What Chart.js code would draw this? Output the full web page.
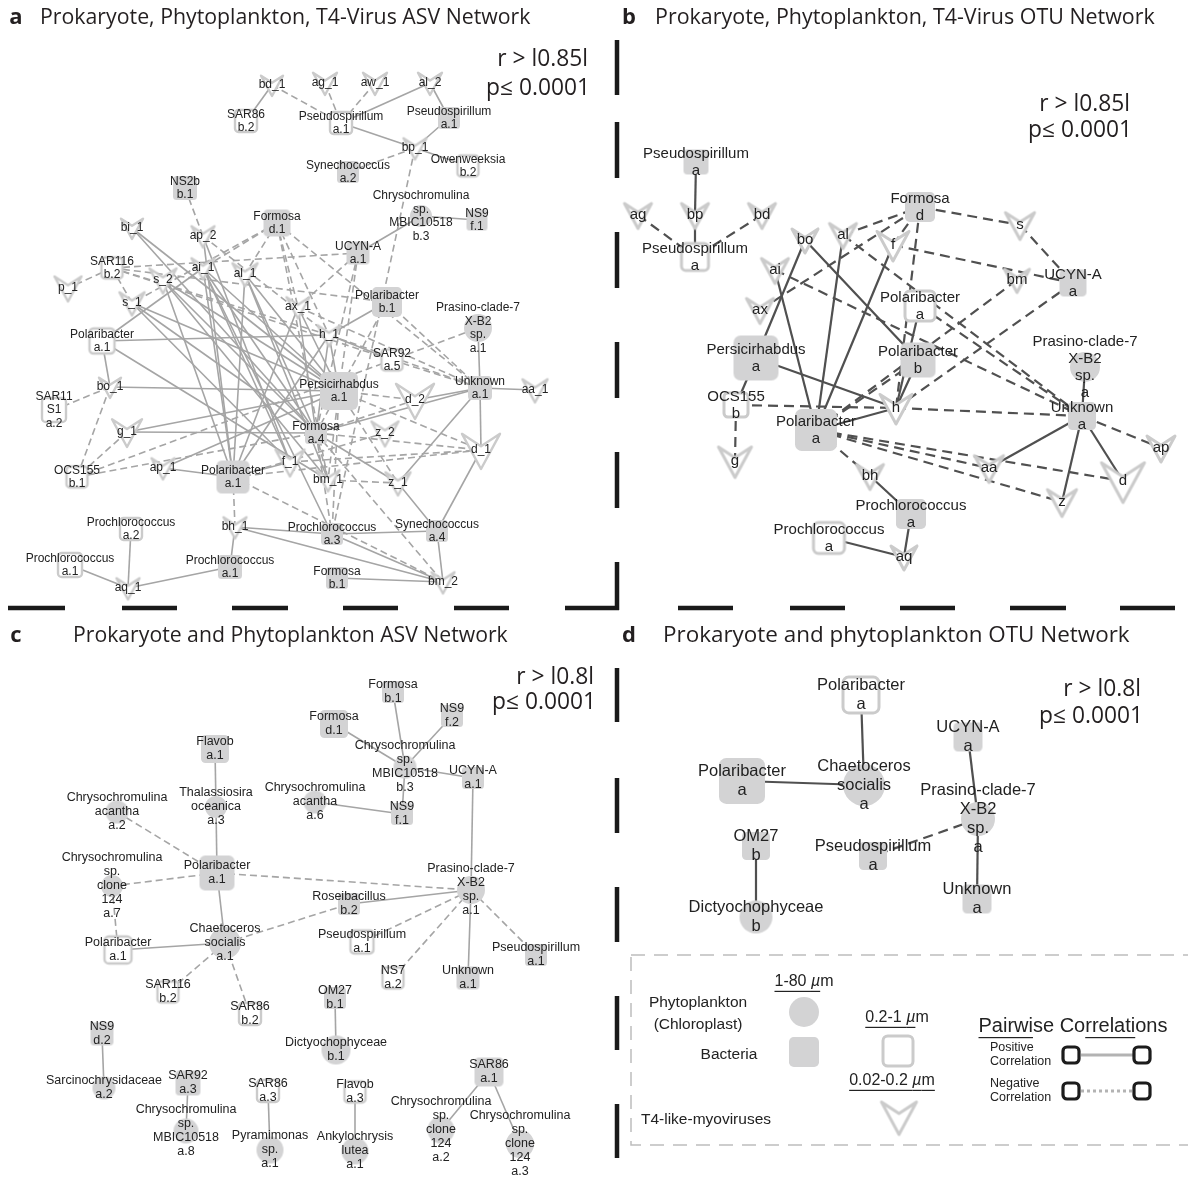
<!DOCTYPE html>
<html>
<head>
<meta charset="utf-8">
<script src="https://cdn.jsdelivr.net/npm/chart.js@4.4.1/dist/chart.umd.min.js"></script>
<style>
  html, body { margin: 0; background: #fff; }
  #wrap { width: 1188px; height: 1180px; }
</style>
</head>
<body>
<div id="wrap"><canvas id="net" width="1188" height="1180"></canvas></div>
<script>
// node: id, label, kind (c phyto circle, f 1-80um, h 0.2-1um, v virus), weight, layout x, layout y
const nodesA = [
  ["bd_1", "bd_1", "v", 22, 272, 85], ["ag_1", "ag_1", "v", 24, 325, 83],
  ["aw_1", "aw_1", "v", 24, 375, 83], ["al_2", "al_2", "v", 24, 430, 83],
  ["sar86b2", "SAR86\nb.2", "h", 22, 246, 121], ["pseuA1h", "Pseudospirillum\na.1", "h", 22, 341, 123],
  ["pseuA1f", "Pseudospirillum\na.1", "f", 22, 449, 118], ["bp_1", "bp_1", "v", 23, 415, 148],
  ["synA2", "Synechococcus\na.2", "f", 22, 348, 172], ["owenB2", "Owenweeksia\nb.2", "h", 21, 468, 166],
  ["ns2bB1", "NS2b\nb.1", "f", 24, 185, 188], ["chryB3", "Chrysochromulina\nsp.\nMBIC10518\nb.3", "c", 22, 421, 216],
  ["ns9F1", "NS9\nf.1", "f", 21, 477, 220], ["formD1", "Formosa\nd.1", "f", 27, 277, 223],
  ["bi_1", "bi_1", "v", 22, 132, 228], ["ap_2", "ap_2", "v", 23, 203, 236],
  ["ucynA1", "UCYN-A\na.1", "f", 23, 358, 253], ["sar116B2", "SAR116\nb.2", "h", 21, 112, 268],
  ["s_2", "s_2", "v", 27, 163, 280], ["ai_1", "ai_1", "v", 23, 203, 268],
  ["al_1", "al_1", "v", 25, 245, 274], ["p_1", "p_1", "v", 27, 68, 288],
  ["s_1", "s_1", "v", 25, 132, 303], ["ax_1", "ax_1", "v", 23, 298, 307],
  ["polB1", "Polaribacter\nb.1", "f", 30, 387, 302], ["prasA1", "Prasino-clade-7\nX-B2\nsp.\na.1", "c", 28, 478, 328],
  ["polA1h", "Polaribacter\na.1", "h", 25, 102, 341], ["h_1", "h_1", "v", 23, 329, 335],
  ["sar92A5", "SAR92\na.5", "h", 21, 392, 360], ["bo_1", "bo_1", "v", 22, 110, 387],
  ["sar11", "SAR11\nS1\na.2", "h", 24, 54, 410], ["persA1", "Persicirhabdus\na.1", "f", 38, 339, 391],
  ["unkA1", "Unknown\na.1", "f", 24, 480, 388], ["aa_1", "aa_1", "v", 25, 535, 390],
  ["d_2", "d_2", "v", 38, 415, 400], ["g_1", "g_1", "v", 30, 127, 432],
  ["formA4", "Formosa\na.4", "f", 22, 316, 433], ["z_2", "z_2", "v", 27, 385, 433],
  ["d_1", "d_1", "v", 38, 481, 450], ["ocsB1", "OCS155\nb.1", "h", 21, 77, 477],
  ["ap_1", "ap_1", "v", 23, 163, 468], ["f_1", "f_1", "v", 29, 290, 462],
  ["polA1f", "Polaribacter\na.1", "f", 33, 233, 477], ["bm_1", "bm_1", "v", 23, 328, 480],
  ["z_1", "z_1", "v", 25, 398, 483], ["bh_1", "bh_1", "v", 23, 235, 527],
  ["proA3", "Prochlorococcus\na.3", "f", 22, 332, 534], ["synA4", "Synechococcus\na.4", "f", 22, 437, 531],
  ["proA2", "Prochlorococcus\na.2", "h", 22, 131, 529], ["proA1h", "Prochlorococcus\na.1", "h", 24, 70, 565],
  ["proA1f", "Prochlorococcus\na.1", "f", 24, 230, 567], ["aq_1", "aq_1", "v", 23, 128, 588],
  ["formB1", "Formosa\nb.1", "f", 22, 337, 578], ["bm_2", "bm_2", "v", 23, 443, 582]
];

// edge: from, to, correlation sign
const edgesA = [
  ["bd_1", "sar86b2", 1], ["bd_1", "pseuA1h", -1], ["ag_1", "pseuA1h", -1], ["aw_1", "pseuA1h", -1],
  ["al_2", "pseuA1h", 1], ["al_2", "pseuA1f", 1], ["pseuA1h", "bp_1", 1], ["pseuA1f", "bp_1", 1],
  ["bp_1", "synA2", -1], ["bp_1", "owenB2", 1], ["bp_1", "proA3", -1],
  ["chryB3", "ns9F1", 1], ["chryB3", "ucynA1", 1], ["ns2bB1", "ap_2", -1],
  ["formD1", "ai_1", -1], ["formD1", "al_1", -1], ["formD1", "s_1", -1], ["formD1", "h_1", -1],
  ["formD1", "bm_1", -1], ["formD1", "ax_1", -1], ["formD1", "unkA1", -1],
  ["sar116B2", "p_1", -1], ["sar116B2", "s_1", -1], ["sar116B2", "ucynA1", -1], ["sar116B2", "polB1", -1],
  ["sar116B2", "h_1", -1], ["sar116B2", "sar92A5", -1],
  ["ap_2", "h_1", -1], ["ap_2", "f_1", 1], ["ap_2", "polA1f", 1],
  ["bi_1", "formA4", 1], ["bi_1", "persA1", 1],
  ["s_2", "persA1", 1], ["s_2", "formA4", 1], ["s_2", "polA1f", 1], ["s_2", "bm_1", 1],
  ["ai_1", "persA1", 1], ["ai_1", "formA4", 1], ["ai_1", "polA1f", 1], ["ai_1", "f_1", 1], ["ai_1", "proA3", 1],
  ["al_1", "persA1", 1], ["al_1", "formA4", 1], ["al_1", "polA1f", 1], ["al_1", "bm_1", 1],
  ["s_1", "persA1", 1], ["s_1", "formA4", 1], ["s_1", "f_1", 1],
  ["ax_1", "persA1", 1], ["ax_1", "formA4", 1], ["ax_1", "unkA1", -1], ["ax_1", "polA1f", 1],
  ["ucynA1", "ax_1", -1], ["ucynA1", "formA4", -1], ["ucynA1", "persA1", -1],
  ["polB1", "h_1", 1], ["polB1", "unkA1", -1], ["polB1", "formA4", -1],
  ["h_1", "sar92A5", 1], ["h_1", "unkA1", -1], ["h_1", "persA1", 1], ["h_1", "formA4", 1], ["h_1", "polA1f", 1],
  ["sar92A5", "unkA1", -1],
  ["polA1h", "bo_1", 1], ["polA1h", "h_1", 1], ["polA1h", "bm_1", 1], ["polA1h", "ai_1", 1],
  ["bo_1", "sar11", -1], ["bo_1", "ocsB1", -1], ["bo_1", "persA1", 1],
  ["g_1", "formA4", 1], ["g_1", "persA1", 1], ["g_1", "ocsB1", -1],
  ["ocsB1", "prasA1", -1], ["ocsB1", "formA4", -1],
  ["ap_1", "polA1f", 1], ["ap_1", "persA1", 1],
  ["polA1f", "f_1", 1], ["polA1f", "d_1", -1], ["polA1f", "bm_2", -1], ["polA1f", "bh_1", -1], ["polA1f", "z_2", -1],
  ["persA1", "d_2", -1], ["persA1", "d_1", -1], ["persA1", "z_1", -1], ["persA1", "bm_1", -1], ["persA1", "proA3", -1],
  ["formA4", "unkA1", 1], ["formA4", "d_2", -1], ["formA4", "d_1", -1], ["formA4", "z_1", 1],
  ["formA4", "bm_1", -1], ["formA4", "proA3", -1], ["formA4", "bm_2", -1],
  ["f_1", "d_1", -1], ["bm_1", "z_1", -1],
  ["z_1", "unkA1", 1], ["z_1", "synA4", 1], ["d_1", "synA4", 1], ["unkA1", "d_1", 1],
  ["unkA1", "aa_1", 1], ["unkA1", "prasA1", 1], ["d_2", "unkA1", 1],
  ["bh_1", "proA1f", 1], ["bh_1", "proA3", 1], ["bh_1", "bm_2", 1],
  ["proA2", "aq_1", 1], ["proA1h", "aq_1", 1], ["proA1f", "aq_1", 1],
  ["proA3", "synA4", 1], ["proA3", "bm_2", 1], ["formB1", "bm_2", 1], ["synA4", "bm_2", 1]
];

const nodesB = [
  ["pseuF", "Pseudospirillum\na", "f", 25, 696, 162], ["ag", "ag", "v", 27, 638, 215],
  ["bp", "bp", "v", 27, 695, 215], ["bd", "bd", "v", 27, 762, 215],
  ["pseuH", "Pseudospirillum\na", "h", 27, 695, 257], ["bo", "bo", "v", 26, 805, 240],
  ["al", "al", "v", 27, 843, 235], ["f", "f", "v", 32, 893, 245],
  ["ai", "ai", "v", 27, 775, 270], ["ax", "ax", "v", 27, 760, 310],
  ["form", "Formosa\nd", "f", 30, 920, 207], ["s", "s", "v", 29, 1020, 225],
  ["bm", "bm", "v", 25, 1017, 280], ["ucyn", "UCYN-A\na", "f", 27, 1073, 283],
  ["polH", "Polaribacter\na", "h", 30, 920, 306], ["polB", "Polaribacter\nb", "f", 35, 918, 360],
  ["pras", "Prasino-clade-7\nX-B2\nsp.\na", "c", 30, 1085, 367], ["pers", "Persicirhabdus\na", "f", 45, 756, 358],
  ["ocs", "OCS155\nb", "h", 24, 736, 405], ["h", "h", "v", 32, 896, 408],
  ["polF", "Polaribacter\na", "f", 42, 816, 430], ["unk", "Unknown\na", "f", 28, 1082, 416],
  ["g", "g", "v", 33, 735, 461], ["bh", "bh", "v", 27, 870, 476],
  ["aa", "aa", "v", 29, 989, 468], ["ap", "ap", "v", 28, 1161, 448],
  ["d", "d", "v", 43, 1123, 481], ["z", "z", "v", 29, 1062, 502],
  ["proF", "Prochlorococcus\na", "f", 30, 911, 514], ["proH", "Prochlorococcus\na", "h", 31, 829, 538],
  ["aq", "aq", "v", 26, 904, 557]
];

const edgesB = [
  ["pseuF", "bp", 1], ["bp", "pseuH", 1], ["ag", "pseuH", -1], ["bd", "pseuH", -1],
  ["bo", "pers", 1], ["bo", "polB", 1], ["ai", "polF", 1], ["ai", "unk", -1],
  ["al", "polF", 1], ["al", "form", -1], ["al", "unk", -1],
  ["f", "polF", 1], ["f", "ucyn", -1], ["f", "form", -1], ["ax", "form", -1],
  ["form", "s", -1], ["form", "h", -1], ["s", "ucyn", -1], ["bm", "polF", -1], ["ucyn", "h", -1],
  ["polH", "h", 1], ["polH", "unk", -1], ["polB", "h", 1], ["polF", "polB", -1],
  ["pers", "h", 1], ["pers", "ocs", 1], ["ocs", "h", -1], ["ocs", "g", -1],
  ["h", "unk", -1], ["polF", "h", 1],
  ["polF", "aa", -1], ["polF", "d", -1], ["polF", "z", -1], ["polF", "bh", -1],
  ["bh", "proF", 1], ["proF", "aq", 1], ["proH", "aq", 1],
  ["unk", "aa", 1], ["unk", "z", 1], ["unk", "d", 1], ["unk", "ap", -1], ["unk", "pras", 1]
];

const nodesC = [
  ["flavA1", "Flavob\na.1", "f", 28, 215, 749], ["thal", "Thalassiosira\noceanica\na.3", "c", 22, 216, 807],
  ["chrA2", "Chrysochromulina\nacantha\na.2", "c", 23, 117, 812], ["polF", "Polaribacter\na.1", "f", 35, 217, 873],
  ["chrA7", "Chrysochromulina\nsp.\nclone\n124\na.7", "c", 22, 112, 886],
  ["formB1", "Formosa\nb.1", "f", 22, 393, 692], ["formD1", "Formosa\nd.1", "f", 28, 334, 724],
  ["ns9F2", "NS9\nf.2", "f", 22, 452, 716], ["chrB3", "Chrysochromulina\nsp.\nMBIC10518\nb.3", "c", 23, 405, 767],
  ["ucyn", "UCYN-A\na.1", "f", 22, 473, 778], ["chrA6", "Chrysochromulina\nacantha\na.6", "c", 23, 315, 802],
  ["ns9F1", "NS9\nf.1", "f", 22, 402, 814], ["pras", "Prasino-clade-7\nX-B2\nsp.\na.1", "c", 28, 471, 890],
  ["rose", "Roseibacillus\nb.2", "f", 22, 349, 904], ["pseuH", "Pseudospirillum\na.1", "h", 23, 362, 942],
  ["polH", "Polaribacter\na.1", "h", 27, 118, 950], ["chae", "Chaetoceros\nsocialis\na.1", "c", 32, 225, 943],
  ["sar116", "SAR116\nb.2", "h", 21, 168, 992], ["sar86B2", "SAR86\nb.2", "h", 22, 250, 1014],
  ["om27", "OM27\nb.1", "f", 22, 335, 998], ["dict", "Dictyochophyceae\nb.1", "c", 29, 336, 1050],
  ["ns7", "NS7\na.2", "h", 21, 393, 978], ["unk", "Unknown\na.1", "f", 23, 468, 978],
  ["pseuF", "Pseudospirillum\na.1", "f", 22, 536, 955], ["ns9D2", "NS9\nd.2", "f", 23, 102, 1034],
  ["sarc", "Sarcinochrysidaceae\na.2", "c", 23, 104, 1088], ["sar92", "SAR92\na.3", "f", 25, 188, 1083],
  ["chrA8", "Chrysochromulina\nsp.\nMBIC10518\na.8", "c", 25, 186, 1131], ["sar86A3", "SAR86\na.3", "h", 22, 268, 1091],
  ["pyra", "Pyramimonas\nsp.\na.1", "c", 27, 270, 1150], ["flavA3", "Flavob\na.3", "h", 21, 355, 1092],
  ["anky", "Ankylochrysis\nlutea\na.1", "c", 27, 355, 1151], ["sar86A1", "SAR86\na.1", "f", 29, 489, 1072],
  ["chrCl2", "Chrysochromulina\nsp.\nclone\n124\na.2", "c", 27, 441, 1130],
  ["chrCl3", "Chrysochromulina\nsp.\nclone\n124\na.3", "c", 28, 520, 1144]
];

const edgesC = [
  ["flavA1", "thal", 1], ["thal", "polF", 1], ["chrA2", "polF", -1], ["chrA7", "polF", -1], ["chrA7", "polH", -1],
  ["polF", "pras", -1], ["polF", "chae", 1], ["chae", "polH", 1], ["chae", "sar116", -1], ["chae", "sar86B2", -1],
  ["chae", "rose", -1], ["rose", "pras", 1], ["pras", "pseuH", -1], ["pras", "ns7", -1], ["pras", "unk", 1],
  ["pras", "pseuF", -1], ["pras", "ucyn", 1],
  ["chrB3", "formB1", 1], ["chrB3", "formD1", 1], ["chrB3", "ns9F2", 1], ["chrB3", "ucyn", 1], ["chrB3", "ns9F1", 1],
  ["chrA6", "ns9F1", 1], ["om27", "dict", 1], ["ns9D2", "sarc", 1], ["sar92", "chrA8", 1],
  ["sar86A3", "pyra", 1], ["flavA3", "anky", 1], ["sar86A1", "chrCl2", 1], ["sar86A1", "chrCl3", 1]
];

const nodesD = [
  ["polH", "Polaribacter\na", "h", 36, 861, 695], ["ucyn", "UCYN-A\na", "f", 29, 968, 737],
  ["polF", "Polaribacter\na", "f", 46, 742, 781], ["chae", "Chaetoceros\nsocialis\na", "c", 42, 864, 785],
  ["pras", "Prasino-clade-7\nX-B2\nsp.\na", "c", 34, 978, 819], ["om27", "OM27\nb", "f", 28, 756, 846],
  ["pseu", "Pseudospirillum\na", "f", 28, 873, 856], ["unk", "Unknown\na", "f", 29, 977, 899],
  ["dict", "Dictyochophyceae\nb", "c", 33, 756, 917]
];

const edgesD = [
  ["polH", "chae", 1], ["polF", "chae", 1], ["ucyn", "pras", 1],
  ["pras", "unk", 1], ["pras", "pseu", -1], ["om27", "dict", 1]
];

const titleLetters = ["a", "b", "c", "d"];
const titleTexts = [
  "Prokaryote, Phytoplankton, T4-Virus ASV Network",
  "Prokaryote, Phytoplankton, T4-Virus OTU Network",
  "Prokaryote and Phytoplankton ASV Network",
  "Prokaryote and phytoplankton OTU Network"
];
const thresholdR = ["r > l0.85l", "r > l0.85l", "r > l0.8l", "r > l0.8l"];
const thresholdP = "p\u2264 0.0001";

const FILL = "#d3d3d4";
const OUTLINE = "#cbcbcb";
const INK = "#222";
const SANS = "'Liberation Sans', Arial, sans-serif";
const MYRIAD = "'Open Sans', 'Noto Sans', sans-serif";

const panels = [
  { nodes: nodesA, edges: edgesA, font: 12, lh: 13.5, edge: "#a5a5a5", ew: 1.6, dash: [7, 4], lw: 2.4 },
  { nodes: nodesB, edges: edgesB, font: 15, lh: 17, edge: "#505050", ew: 2.2, dash: [10, 6], lw: 3 },
  { nodes: nodesC, edges: edgesC, font: 12.5, lh: 14, edge: "#a5a5a5", ew: 1.6, dash: [7, 4], lw: 2.4 },
  { nodes: nodesD, edges: edgesD, font: 16.5, lh: 19, edge: "#505050", ew: 2.2, dash: [10, 6], lw: 3 }
];

function glyph(kind, size, lw) {
  const pad = Math.ceil(lw) + 2;
  const c = document.createElement("canvas");
  c.width = c.height = Math.ceil(size + pad * 2);
  const g = c.getContext("2d");
  const m = c.width / 2, h = size / 2;
  g.lineJoin = "round";
  g.lineWidth = lw;
  g.strokeStyle = OUTLINE;
  g.beginPath();
  if (kind === "c") {
    g.arc(m, m, h, 0, Math.PI * 2);
    g.fillStyle = FILL;
    g.fill();
  } else if (kind === "f" || kind === "h") {
    g.roundRect(m - h, m - h, size, size, Math.max(2, size * 0.16));
    g.fillStyle = kind === "f" ? FILL : "#fff";
    g.fill();
    if (kind === "h") g.stroke();
  } else {
    g.moveTo(m - h, m - h * 0.85);
    g.lineTo(m, m - h * 0.2);
    g.lineTo(m + h, m - h * 0.85);
    g.lineTo(m, m + h);
    g.closePath();
    g.fillStyle = "#fff";
    g.fill();
    g.stroke();
  }
  return c;
}

const datasets = [];
panels.forEach((p) => {
  const pos = {};
  p.nodes.forEach((n) => (pos[n[0]] = { x: n[4], y: n[5] }));
  p.edges.forEach((e) => {
    if (!pos[e[0]] || !pos[e[1]]) return;
    datasets.push({
      data: [{ ...pos[e[0]] }, { ...pos[e[1]] }],
      showLine: true,
      pointRadius: 0,
      borderColor: p.edge,
      borderWidth: p.ew,
      borderDash: e[2] < 0 ? p.dash : [],
      order: 2,
      clip: false
    });
  });
  datasets.push({
    data: p.nodes.map((n) => ({ x: n[4], y: n[5], img: glyph(n[2], n[3], p.lw), sz: n[3] / 2 })),
    pointStyle: (c) => (c.raw ? c.raw.img : "circle"),
    pointRadius: (c) => (c.raw ? c.raw.sz : 3),
    order: 1,
    clip: false
  });
});

function put(ctx, s, x, y, font, align) {
  ctx.font = font;
  ctx.textAlign = align || "center";
  ctx.textBaseline = "middle";
  ctx.fillText(s, x, y);
}

function fitSize(ctx, s, w, weight, family) {
  ctx.font = `${weight} 100px ${family}`;
  return (100 * w) / ctx.measureText(s).width;
}

// parts: [text, italic, underline]
function rich(ctx, parts, cx, y, size) {
  const fonts = parts.map((q) => `${q[1] ? "italic " : ""}${size}px ${SANS}`);
  const widths = parts.map((q, i) => { ctx.font = fonts[i]; return ctx.measureText(q[0]).width; });
  let x = cx - widths.reduce((a, b) => a + b, 0) / 2;
  ctx.textAlign = "left";
  ctx.textBaseline = "middle";
  parts.forEach((q, i) => {
    ctx.font = fonts[i];
    ctx.fillText(q[0], x, y);
    if (q[2]) ctx.fillRect(x, y + size * 0.55, widths[i], 1.2);
    x += widths[i];
  });
}

const netText = {
  id: "netText",
  afterDatasetsDraw(chart) {
    const { ctx, scales: { x, y } } = chart;
    ctx.save();
    ctx.fillStyle = INK;
    panels.forEach((p) => {
      const font = `${p.font}px ${SANS}`;
      p.nodes.forEach((n) => {
        const lines = n[1].split("\n");
        const px = x.getPixelForValue(n[4]);
        const py = y.getPixelForValue(n[5]);
        lines.forEach((s, i) => put(ctx, s, px, py + (i - (lines.length - 1) / 2) * p.lh, font));
      });
    });

    // panel titles and thresholds
    ctx.fillStyle = "#231f20";
    const heads = [[16, 40, 491, 18], [629, 655, 500, 18], [16, 73, 435, 636], [629, 663, 467, 636]];
    heads.forEach((h, i) => {
      put(ctx, titleLetters[i], h[0], h[3], `700 22px ${MYRIAD}`);
      const fs = fitSize(ctx, titleTexts[i], h[2], 400, MYRIAD);
      put(ctx, titleTexts[i], h[1], h[3], `400 ${fs}px ${MYRIAD}`, "left");
    });
    const thr = [[590, 60, 89], [1132, 105, 131], [596, 678, 703], [1143, 690, 717]];
    thr.forEach((t, i) => {
      const fs = fitSize(ctx, thresholdP, 104, 400, MYRIAD);
      put(ctx, thresholdR[i], t[0] - 2, t[1], `400 ${fs}px ${MYRIAD}`, "right");
      put(ctx, thresholdP, t[0], t[2], `400 ${fs}px ${MYRIAD}`, "right");
    });

    // black dashed panel dividers
    ctx.strokeStyle = "#1a1a1a";
    ctx.lineWidth = 4.5;
    ctx.beginPath();
    [[40, 95], [122, 178], [232, 288], [342, 398], [452, 508], [562, 610],
     [668, 722], [778, 833], [887, 942], [996, 1050], [1104, 1158]].forEach((s) => {
      ctx.moveTo(617, s[0]); ctx.lineTo(617, s[1]);
    });
    [[8, 65], [122, 177], [232, 288], [343, 398], [454, 509], [565, 619],
     [678, 733], [790, 845], [900, 955], [1010, 1066], [1120, 1175]].forEach((s) => {
      ctx.moveTo(s[0], 608); ctx.lineTo(s[1], 608);
    });
    ctx.stroke();

    // legend
    ctx.strokeStyle = "#bdbdbd";
    ctx.lineWidth = 1.5;
    ctx.setLineDash([14, 9]);
    ctx.strokeRect(631, 955, 600, 190);
    ctx.setLineDash([]);
    ctx.fillStyle = INK;
    const lf = `15.5px ${SANS}`;
    put(ctx, "Phytoplankton", 698, 1003, lf);
    put(ctx, "(Chloroplast)", 698, 1025, lf);
    put(ctx, "Bacteria", 729, 1055, lf);
    put(ctx, "T4-like-myoviruses", 706, 1120, lf);
    rich(ctx, [["1-80 ", 0, 1], ["\u00b5", 1, 1], ["m", 0, 0]], 804, 982, 16);
    rich(ctx, [["0.2-1 ", 0, 1], ["\u00b5", 1, 1], ["m", 0, 0]], 897, 1018, 16);
    rich(ctx, [["0.02-0.2 ", 0, 1], ["\u00b5", 1, 1], ["m", 0, 1]], 892, 1081, 16);
    rich(ctx, [["Pairwi", 0, 1], ["se Co", 0, 0], ["rrelati", 0, 1], ["ons", 0, 0]], 1073, 1026, 20);
    const sf = `12.5px ${SANS}`;
    put(ctx, "Positive", 990, 1048, sf, "left");
    put(ctx, "Correlation", 990, 1062, sf, "left");
    put(ctx, "Negative", 990, 1084, sf, "left");
    put(ctx, "Correlation", 990, 1098, sf, "left");
    [["c", 30, 804, 1012], ["f", 30, 804, 1052], ["h", 30, 898, 1051], ["v", 35, 899, 1117]].forEach((g) => {
      const im = glyph(g[0], g[1], 3);
      ctx.drawImage(im, g[2] - im.width / 2, g[3] - im.height / 2);
    });
    ctx.strokeStyle = "#b3b3b3";
    ctx.lineWidth = 3;
    ctx.beginPath(); ctx.moveTo(1081, 1055); ctx.lineTo(1133, 1055); ctx.stroke();
    ctx.setLineDash([3, 3]);
    ctx.beginPath(); ctx.moveTo(1081, 1091); ctx.lineTo(1133, 1091); ctx.stroke();
    ctx.setLineDash([]);
    ctx.strokeStyle = "#1c1c1c";
    ctx.lineWidth = 3.2;
    [[1071, 1055], [1142, 1055], [1071, 1091], [1142, 1091]].forEach((b) => {
      ctx.beginPath(); ctx.roundRect(b[0] - 8, b[1] - 8, 16, 16, 4); ctx.stroke();
    });
    ctx.restore();
  }
};

new Chart(document.getElementById("net"), {
  type: "scatter",
  data: { datasets },
  options: {
    responsive: false,
    animation: false,
    events: [],
    layout: { padding: 0, autoPadding: false },
    plugins: { legend: { display: false }, tooltip: { enabled: false } },
    scales: {
      x: { type: "linear", min: 0, max: 1188, display: false },
      y: { type: "linear", min: 0, max: 1180, reverse: true, display: false }
    }
  },
  plugins: [netText]
});
</script>
</body>
</html>
